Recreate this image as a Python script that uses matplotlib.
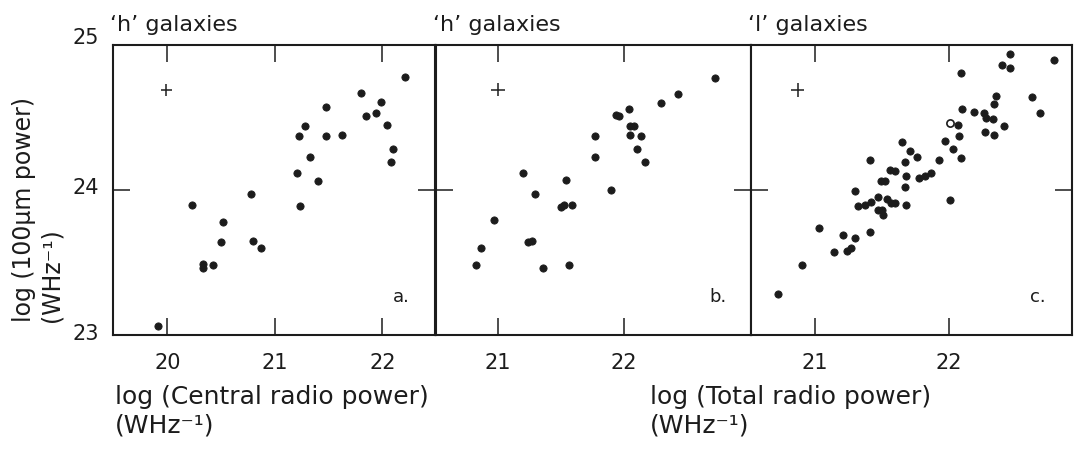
import matplotlib
matplotlib.use("Agg")
import matplotlib.pyplot as plt
from matplotlib.transforms import ScaledTranslation

# --- data -----------------------------------------------------------------
# panel a: 'h' galaxies, central radio power vs 100um power
central_h_x = [22.21, 21.80, 21.99, 21.48, 21.85, 21.94, 22.04, 21.28, 21.22,
               21.48, 21.62, 22.10, 21.33, 22.08, 21.21, 21.40, 20.78, 20.23,
               21.23, 20.52, 20.50, 20.80, 20.87, 20.33, 20.33, 20.42, 19.91]
central_h_y = [24.78, 24.67, 24.61, 24.57, 24.51, 24.53, 24.45, 24.44, 24.37,
               24.37, 24.38, 24.28, 24.23, 24.19, 24.12, 24.06, 23.97, 23.90,
               23.89, 23.78, 23.64, 23.65, 23.60, 23.49, 23.46, 23.48, 23.06]

# panel b: 'h' galaxies, total radio power vs 100um power
total_h_x = [22.73, 22.43, 22.30, 22.04, 21.94, 21.96, 22.05, 22.08, 22.05,
             22.14, 21.77, 22.11, 21.77, 22.17, 21.20, 21.54, 21.90, 21.30,
             21.50, 21.53, 21.59, 20.97, 21.24, 21.27, 20.87, 20.83, 21.36, 21.57]
total_h_y = [24.77, 24.66, 24.60, 24.56, 24.52, 24.51, 24.44, 24.44, 24.38,
             24.37, 24.37, 24.28, 24.23, 24.19, 24.12, 24.07, 24.00, 23.97,
             23.88, 23.90, 23.90, 23.79, 23.64, 23.65, 23.60, 23.48, 23.46, 23.48]

# panel c: 'l' galaxies, total radio power vs 100um power
total_l_x = [22.46, 22.79, 22.40, 22.46, 22.09, 22.35, 22.62, 22.34, 22.10,
             22.19, 22.26, 22.28, 22.33, 22.68, 22.07, 22.41, 22.27, 22.34,
             22.08, 21.97, 21.65, 22.03, 21.71, 21.76, 21.41, 21.93, 22.09,
             21.67, 21.56, 21.60, 21.68, 21.87, 21.82, 21.78, 21.49, 21.52,
             21.67, 21.30, 22.01, 21.47, 21.54, 21.42, 21.37, 21.32, 21.60,
             21.57, 21.68, 21.47, 21.50, 21.51, 21.03, 21.21, 21.30, 21.41,
             21.14, 21.24, 21.27, 20.90, 20.72]
total_l_y = [24.94, 24.90, 24.86, 24.84, 24.81, 24.65, 24.64, 24.59, 24.56,
             24.54, 24.53, 24.50, 24.49, 24.53, 24.45, 24.44, 24.40, 24.38,
             24.37, 24.34, 24.33, 24.28, 24.27, 24.23, 24.21, 24.21, 24.22,
             24.19, 24.14, 24.13, 24.10, 24.12, 24.10, 24.08, 24.06, 24.06,
             24.02, 23.99, 23.93, 23.95, 23.94, 23.92, 23.90, 23.89, 23.91,
             23.91, 23.90, 23.86, 23.86, 23.83, 23.74, 23.69, 23.67, 23.71,
             23.57, 23.58, 23.60, 23.48, 23.28]
# one galaxy plotted with an open symbol
open_l_x = [22.01]
open_l_y = [24.46]

# typical error crosses (centre and half-lengths)
err_x = [19.99, 21.00, 20.87]
err_y = [24.69, 24.69, 24.69]
err_dx = [0.055, 0.056, 0.05]
err_dy = [0.042, 0.045, 0.048]

panel_titles = ["\u2018h\u2019 galaxies", "\u2018h\u2019 galaxies", "\u2018l\u2019 galaxies"]
panel_tags = ["a.", "b.", "c."]
x_ticks = [[20, 21, 22], [21, 22], [21, 22]]
x_limits = [(19.49, 22.49), (20.51, 23.01), (20.52, 22.92)]
y_ticks = [23, 24, 25]
y_limits = (23, 25)

unit_text = "(WHz\u207b\u00b9)"

# --- figure ----------------------------------------------------------------
W, H = 1074, 449
plt.rcParams["font.family"] = ["DejaVu Sans"]
ink = "#1c1c1c"

fig = plt.figure(figsize=(W / 100, H / 100), dpi=100)
fig.patch.set_facecolor("white")

# axes boxes in pixels: (left, right)
boxes = [(112.7, 435.0), (436.0, 750.7), (751.0, 1071.7)]
top_px, bottom_px = 45.0, 335.0

series = [(central_h_x, central_h_y), (total_h_x, total_h_y), (total_l_x, total_l_y)]

axes = []
for i, (l, r) in enumerate(boxes):
    ax = fig.add_axes([l / W, 1 - bottom_px / H, (r - l) / W, (bottom_px - top_px) / H])
    axes.append(ax)
    xs, ys = series[i]
    ax.plot(xs, ys, "o", ms=5.2, color=ink, mec=ink, mew=0.6, zorder=3)
    ax.errorbar([err_x[i]], [err_y[i]], xerr=[err_dx[i]], yerr=[err_dy[i]],
                fmt="none", ecolor=ink, elinewidth=1.1, capsize=0, zorder=3)
    ax.set_xlim(*x_limits[i])
    ax.set_ylim(*y_limits)
    ax.set_xticks(x_ticks[i])
    ax.set_yticks(y_ticks)
    for sp in ax.spines.values():
        sp.set_linewidth(1.5)
        sp.set_color(ink)
    ax.tick_params(axis="both", direction="in", length=12, width=1.1, color=ink,
                   top=True, right=True, labelsize=15, labelcolor=ink)
    ax.tick_params(axis="x", pad=13)
    ax.tick_params(axis="y", pad=10)
    if i > 0:
        ax.tick_params(axis="y", labelleft=False)
    ax.text(0.895, 0.13, panel_tags[i], transform=ax.transAxes, ha="center",
            va="center", fontsize=13, color=ink)
    ax.annotate(panel_titles[i], xy=(0, 1), xycoords="axes fraction",
                xytext=(-2, 10), textcoords="offset points", ha="left",
                va="baseline", fontsize=16, color=ink)

axes[2].plot(open_l_x, open_l_y, "o", ms=5.2, mfc="white", mec=ink, mew=1.2, zorder=4)

# hand-lettered y labels sit slightly above their ticks
for lbl, dy in zip(axes[0].get_yticklabels(), [3, 4, 9]):
    lbl.set_transform(lbl.get_transform() + ScaledTranslation(0, dy / 100, fig.dpi_scale_trans))

# axis titles
fig.text(24 / W, 1 - 322 / H, "log (100\u03bcm power)", rotation=90, ha="center",
         va="bottom", fontsize=17, color=ink)
fig.text(52 / W, 1 - 322 / H, unit_text, rotation=90, ha="center",
         va="bottom", fontsize=17, color=ink)

fig.text(115 / W, 1 - 404 / H, "log (Central radio power)", ha="left",
         va="baseline", fontsize=18, color=ink)
fig.text(115 / W, 1 - 433 / H, unit_text, ha="left", va="baseline",
         fontsize=18, color=ink)
fig.text(650 / W, 1 - 404 / H, "log (Total radio power)", ha="left",
         va="baseline", fontsize=18, color=ink)
fig.text(650 / W, 1 - 433 / H, unit_text, ha="left", va="baseline",
         fontsize=18, color=ink)

fig.savefig("out.png", dpi=100)
